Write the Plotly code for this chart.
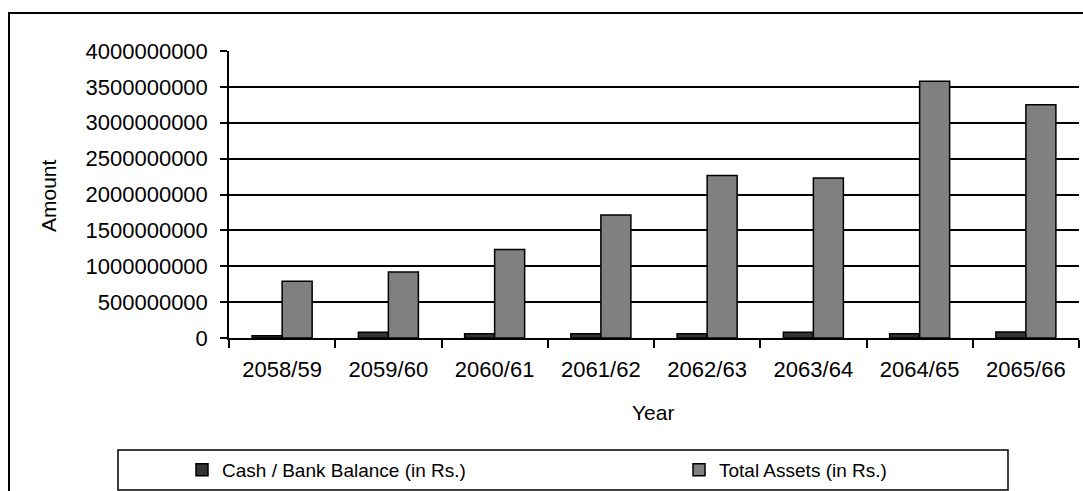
import plotly.graph_objects as go

# Fiscal years (Nepali calendar) and yearly amounts in rupees
years = ["2058/59", "2059/60", "2060/61", "2061/62",
         "2062/63", "2063/64", "2064/65", "2065/66"]
cash_bank = [30000000, 80000000, 60000000, 60000000,
             60000000, 80000000, 60000000, 85000000]
total_assets = [790000000, 920000000, 1235000000, 1715000000,
                2265000000, 2230000000, 3580000000, 3250000000]
y_ticks = [0, 500000000, 1000000000, 1500000000, 2000000000,
           2500000000, 3000000000, 3500000000, 4000000000]

W, H = 1083, 491
L, R, T, B = 229, 4, 51, 153
pw, ph = W - L - R, H - T - B


def px_x(x):
    return (x - L) / pw


def px_y(y):
    return (H - B - y) / ph


FONT = "Liberation Sans, Arial, sans-serif"

fig = go.Figure()
fig.add_trace(go.Bar(
    x=years, y=cash_bank, name="Cash / Bank Balance (in Rs.)",
    marker=dict(color="#333333", line=dict(color="black", width=1.5)),
))
fig.add_trace(go.Bar(
    x=years, y=total_assets, name="Total Assets (in Rs.)",
    marker=dict(color="#808080", line=dict(color="black", width=1.5)),
))

fig.update_layout(
    width=W, height=H,
    margin=dict(l=L, r=R, t=T, b=B, autoexpand=False),
    paper_bgcolor="white", plot_bgcolor="white",
    font=dict(family=FONT, size=22, color="black"),
    barmode="group", bargap=0.435, bargroupgap=0,
    showlegend=True,
    legend=dict(
        orientation="h", x=px_x(182), xanchor="left",
        y=px_y(470), yanchor="middle",
        font=dict(size=19), entrywidth=452, entrywidthmode="pixels",
        bgcolor="rgba(0,0,0,0)", borderwidth=0,
    ),
    xaxis=dict(
        type="category", showgrid=False, showline=True,
        linecolor="black", linewidth=1.5,
        ticks="outside", tickson="boundaries", ticklen=8,
        tickcolor="black", tickwidth=1.5, ticklabelstandoff=11,
    ),
    yaxis=dict(
        range=[0, 4000000000], tickvals=y_ticks, tickformat="d",
        showgrid=True, gridcolor="black", gridwidth=1.5,
        zeroline=False, showline=True, linecolor="black", linewidth=1.5,
        ticks="outside", ticklen=7, tickcolor="black", tickwidth=1.5,
        ticklabelstandoff=8,
    ),
    annotations=[
        dict(text="Amount", textangle=-90, x=px_x(48), y=px_y(196),
             xref="paper", yref="paper", showarrow=False,
             xanchor="center", yanchor="middle", font=dict(size=21)),
        dict(text="Year", x=px_x(653), y=px_y(412),
             xref="paper", yref="paper", showarrow=False,
             xanchor="center", yanchor="middle", font=dict(size=21)),
    ],
    shapes=[
        # outer chart frame
        dict(type="rect", xref="paper", yref="paper",
             x0=px_x(9), x1=px_x(1100), y0=px_y(520), y1=px_y(13),
             line=dict(color="black", width=2)),
        # legend box
        dict(type="rect", xref="paper", yref="paper",
             x0=px_x(118), x1=px_x(1008), y0=px_y(490), y1=px_y(450),
             line=dict(color="black", width=1.5)),
    ],
)

fig.write_html("out.html")
